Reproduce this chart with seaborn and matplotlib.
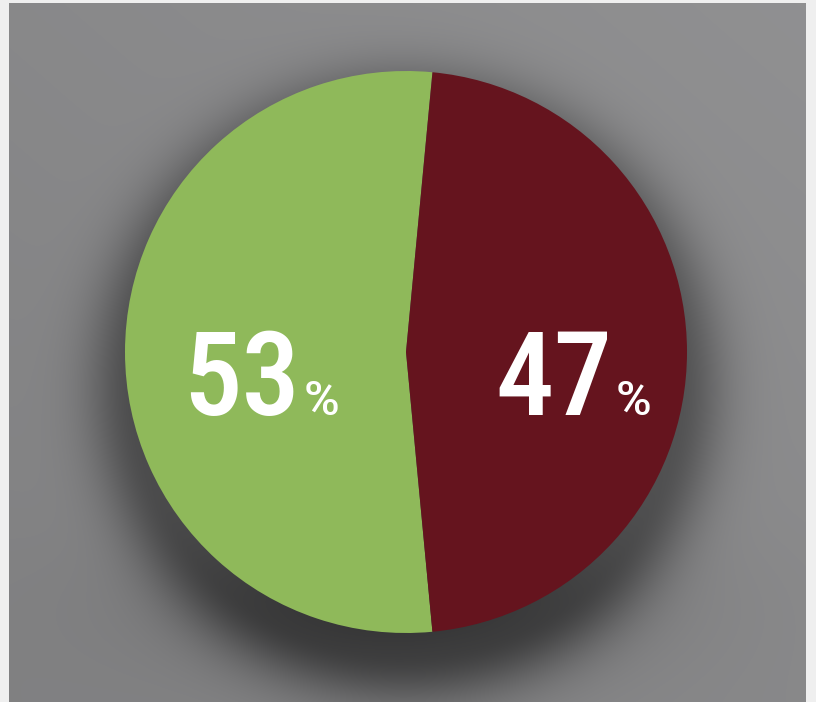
import numpy as np
import matplotlib
matplotlib.use("Agg")
import matplotlib.pyplot as plt
import seaborn as sns
from matplotlib import font_manager
from matplotlib.font_manager import FontProperties

# ---- data ----
categories = ["Yes", "No"]
values = [53, 47]
colors = ["#8fb95a", "#65141e"]
labels = ["53", "47"]

sns.set_theme(style="white")
plt.rcParams['font.family'] = ['Roboto', 'DejaVu Sans']

# look for a condensed face
cands = []
for f in font_manager.fontManager.ttflist:
    fn = f.fname.lower()
    if ("condensed" in fn or "narrow" in fn) and "italic" not in fn and "oblique" not in fn:
        score = 0
        if "roboto" in fn: score += 30
        if "liberation" in fn: score += 20
        if "dejavu" in fn: score += 10
        if "bold" in fn and "semi" not in fn and "extra" not in fn: score += 3
        if "medium" in fn: score += 4
        cands.append((score, f.fname))
cands.sort(reverse=True)
if cands:
    big_fp = FontProperties(fname=cands[0][1])
    is_cond = True
else:
    big_fp = FontProperties(family=['Roboto', 'DejaVu Sans'], weight='medium')
    is_cond = False
pct_fp = FontProperties(family=['Roboto', 'DejaVu Sans'], weight='medium')

W, H = 816, 702
fig = plt.figure(figsize=(W / 100, H / 100), dpi=100)
fig.patch.set_facecolor("#efefef")

# gray background panel with soft shadow
bx0, by0, bx1, by1 = 9, 3, 806, 702
bg_ax = fig.add_axes([bx0 / W, 1 - by1 / H, (bx1 - bx0) / W, (by1 - by0) / H])
bg_ax.set_axis_off()
yy, xx = np.mgrid[by0:by1, bx0:bx1].astype(float)
base = 0.55 + 0.015 * (xx - 400) / 400 - 0.03 * (yy / 700)
d = np.sqrt((xx - 406) ** 2 + (yy - 385) ** 2)
shadow = 0.22 * np.exp(-np.clip(d - 270, 0, None) ** 2 / (2 * 35 ** 2))
d2 = np.sqrt(((xx - 406) / 320) ** 2 + ((yy - 600) / 110) ** 2)
shadow += 0.10 * np.exp(-d2 ** 2 * 2)
g = np.clip(base - shadow, 0, 1)
rgb = np.dstack([g, g, g * 1.01])
bg_ax.imshow(np.clip(rgb, 0, 1), extent=[0, 1, 0, 1], aspect="auto", origin="upper")
bg_ax.set_xlim(0, 1)
bg_ax.set_ylim(0, 1)

# pie axes
pcx, pcy, R = 406, 352, 281
ax = fig.add_axes([(pcx - R) / W, 1 - (pcy + R) / H, 2 * R / W, 2 * R / H])
ax.set_axis_off()
total = sum(values)
start = 90 - (values[0] - total / 2) / total * 360 / 2
wedges, _ = ax.pie(values, colors=colors, startangle=start, counterclock=True,
                   radius=1.0, wedgeprops=dict(linewidth=0))
ax.set_xlim(-1, 1)
ax.set_ylim(-1, 1)
ax.set_aspect("equal")

big_size = 84 if is_cond else 76
num_right = [-0.377, 0.733]
base_y = -0.224
for lab, xr in zip(labels, num_right):
    t = ax.text(xr, base_y, lab, ha="right", va="baseline", color="white",
                fontproperties=big_fp)
    t.set_fontsize(big_size)
    p = ax.text(xr + 0.012, base_y, "%", ha="left", va="baseline", color="white",
                fontproperties=pct_fp)
    p.set_fontsize(35)

fig.savefig("out.png", dpi=100, facecolor=fig.get_facecolor())
